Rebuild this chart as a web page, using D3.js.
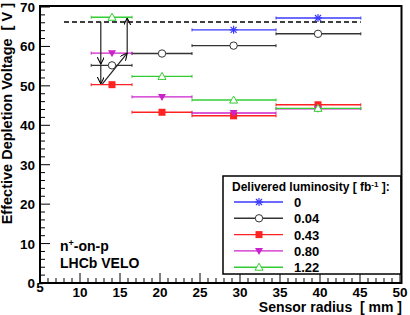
<!DOCTYPE html>
<html>
<head>
<meta charset="utf-8">
<script src="https://cdn.jsdelivr.net/npm/d3@7"></script>
<style>
  body { margin: 0; background: #fff; }
  svg { display: block; font-family: "Liberation Sans", Arial, sans-serif; }
  text { font-weight: bold; white-space: pre; }
</style>
</head>
<body>
<svg id="chart" width="410" height="315"></svg>
<script>
// bins in sensor radius (mm): low edge, centre, high edge
const binLow = [11.4, 16.5, 24.0, 34.5];
const binMid = [14.0, 20.25, 29.2, 39.75];
const binHigh = [16.5, 24.0, 34.5, 45.1];

const lumiLabels = ["0", "0.04", "0.43", "0.80", "1.22"];
const lumiColors = ["#3a3aff", "#333333", "#ff2222", "#cc22cc", "#33cc33"];
const lumiMarkers = ["star", "circle", "square", "triangleDown", "triangleUp"];
// depletion voltage per bin (null = no point)
const vdep0 = [null, null, 64.2, 67.2];
const vdep004 = [55.2, 58.2, 60.2, 63.2];
const vdep043 = [50.3, 43.3, 42.4, 45.2];
const vdep080 = [58.3, 47.2, 43.1, 44.2];
const vdep122 = [67.4, 52.4, 46.4, 44.3];
const seriesValues = [vdep0, vdep004, vdep043, vdep080, vdep122];

const initialVoltage = 66.2;
const dashedRange = [8.0, 45.1];
// arrows: [x1, v1, x2, v2]
const arrows = [
  [12.6, 66.2, 12.6, 55.5],
  [12.6, 55.5, 12.6, 50.5],
  [12.8, 50.5, 15.9, 58.3],
  [15.9, 58.3, 15.9, 67.2]
];

const xTicks = [5, 10, 15, 20, 25, 30, 35, 40, 45, 50];
const yTicks = [0, 10, 20, 30, 40, 50, 60, 70];

const svg = d3.select("#chart");
const x = d3.scaleLinear().domain([5, 50]).range([40, 400]);
const y = d3.scaleLinear().domain([0, 70]).range([283, 7]);

// ticks (ROOT style, pointing inside)
const gAxes = svg.append("g").attr("stroke", "#000").attr("stroke-width", 1);
d3.range(5, 50.01, 1).forEach(v => {
  const major = Math.abs(v % 5) < 1e-6;
  gAxes.append("line")
    .attr("x1", x(v)).attr("x2", x(v))
    .attr("y1", y(0)).attr("y2", y(0) - (major ? 10 : 5));
});
d3.range(0, 70.01, 2).forEach(v => {
  const major = Math.abs(v % 10) < 1e-6;
  gAxes.append("line")
    .attr("x1", x(5)).attr("x2", x(5) + (major ? 10 : 5))
    .attr("y1", y(v)).attr("y2", y(v));
});

svg.append("g").selectAll("text").data(xTicks).join("text")
  .attr("x", d => x(d)).attr("y", d => d === 5 ? 292 : 297)
  .attr("text-anchor", "middle")
  .style("font-size", "13.5px")
  .text(d => d);

svg.append("g").selectAll("text").data(yTicks).join("text")
  .attr("x", 35).attr("y", d => y(d) + 5)
  .attr("text-anchor", "end")
  .style("font-size", "13.5px")
  .text(d => d);

svg.append("text")
  .attr("x", 402).attr("y", 312)
  .attr("text-anchor", "end")
  .style("font-size", "14px")
  .text("Sensor radius  [ mm ]");

svg.append("text")
  .attr("transform", "translate(12,3) rotate(-90)")
  .attr("text-anchor", "end")
  .style("font-size", "14.5px")
  .text("Effective Depletion Voltage  [ V ]");

// dashed initial voltage
svg.append("line")
  .attr("x1", x(dashedRange[0])).attr("x2", x(dashedRange[1]))
  .attr("y1", y(initialVoltage)).attr("y2", y(initialVoltage))
  .attr("stroke", "#000").attr("stroke-width", 1.6)
  .attr("stroke-dasharray", "5,3");

// marker drawing
function drawMarker(g, type, cx, cy, color) {
  if (type === "star") {
    const s = 4;
    [[-s, 0, s, 0], [0, -s, 0, s], [-s * 0.75, -s * 0.75, s * 0.75, s * 0.75], [-s * 0.75, s * 0.75, s * 0.75, -s * 0.75]]
      .forEach(l => g.append("line")
        .attr("x1", cx + l[0]).attr("y1", cy + l[1])
        .attr("x2", cx + l[2]).attr("y2", cy + l[3])
        .attr("stroke", color).attr("stroke-width", 1.2));
  } else if (type === "circle") {
    g.append("circle").attr("cx", cx).attr("cy", cy).attr("r", 3.7)
      .attr("fill", "#fff").attr("stroke", color).attr("stroke-width", 1);
  } else if (type === "square") {
    g.append("rect").attr("x", cx - 3.5).attr("y", cy - 3.5)
      .attr("width", 7).attr("height", 7).attr("fill", color);
  } else if (type === "triangleDown") {
    g.append("path").attr("d", `M${cx - 4},${cy - 3}L${cx + 4},${cy - 3}L${cx},${cy + 4}Z`)
      .attr("fill", color);
  } else if (type === "triangleUp") {
    g.append("path").attr("d", `M${cx - 4},${cy + 3}L${cx + 4},${cy + 3}L${cx},${cy - 4}Z`)
      .attr("fill", "#fff").attr("stroke", color).attr("stroke-width", 1);
  }
}

function drawSegment(g, x1, x2, yy, color) {
  g.append("line").attr("x1", x1).attr("x2", x2).attr("y1", yy).attr("y2", yy)
    .attr("stroke", color).attr("stroke-width", 1.4);
  [x1, x2].forEach(xx => g.append("line")
    .attr("x1", xx).attr("x2", xx).attr("y1", yy - 1.5).attr("y2", yy + 1.5)
    .attr("stroke", color).attr("stroke-width", 1));
}

const gData = svg.append("g");
seriesValues.forEach((vals, si) => {
  vals.forEach((v, bi) => {
    if (v === null) return;
    drawSegment(gData, x(binLow[bi]), x(binHigh[bi]), y(v), lumiColors[si]);
  });
});
seriesValues.forEach((vals, si) => {
  vals.forEach((v, bi) => {
    if (v === null) return;
    drawMarker(gData, lumiMarkers[si], x(binMid[bi]), y(v), lumiColors[si]);
  });
});

// arrows
svg.append("defs").append("marker")
  .attr("id", "arrowhead")
  .attr("viewBox", "0 0 10 10")
  .attr("refX", 10).attr("refY", 5)
  .attr("markerWidth", 7).attr("markerHeight", 7)
  .attr("markerUnits", "userSpaceOnUse")
  .attr("orient", "auto")
  .append("path").attr("d", "M0,0L10,5L0,10").attr("fill", "none")
  .attr("stroke", "#000").attr("stroke-width", 1.5);

svg.append("g").selectAll("line").data(arrows).join("line")
  .attr("x1", d => x(d[0])).attr("y1", d => y(d[1]))
  .attr("x2", d => x(d[2])).attr("y2", d => y(d[3]))
  .attr("stroke", "#222").attr("stroke-width", 1.2)
  .attr("marker-end", "url(#arrowhead)");

// labels
svg.append("text").attr("x", 60).attr("y", 251).style("font-size", "14px")
  .html('n<tspan dy="-5" font-size="9px">+</tspan><tspan dy="5">-on-p</tspan>');
svg.append("text").attr("x", 60).attr("y", 268).style("font-size", "14px")
  .text("LHCb VELO");

// legend
const lg = svg.append("g");
lg.append("rect").attr("x", 223).attr("y", 176).attr("width", 178).attr("height", 98)
  .attr("fill", "#fff").attr("stroke", "#000").attr("stroke-width", 1.5);
lg.append("text").attr("x", 232).attr("y", 191).style("font-size", "12px")
  .html('Delivered luminosity [ fb<tspan dy="-4" font-size="8px">-1</tspan><tspan dy="4"> ]:</tspan>');
lumiLabels.forEach((lab, i) => {
  const yy = 202 + i * 16.3;
  lg.append("line").attr("x1", 234).attr("x2", 283).attr("y1", yy).attr("y2", yy)
    .attr("stroke", lumiColors[i]).attr("stroke-width", 1.4);
  drawMarker(lg, lumiMarkers[i], 259, yy, lumiColors[i]);
  lg.append("text").attr("x", 294).attr("y", yy + 5).style("font-size", "13px").text(lab);
});

// frame
svg.append("rect").attr("x", 40).attr("y", 6).attr("width", 361.5).attr("height", 277)
  .attr("fill", "none").attr("stroke", "#000").attr("stroke-width", 2);
</script>
</body>
</html>
